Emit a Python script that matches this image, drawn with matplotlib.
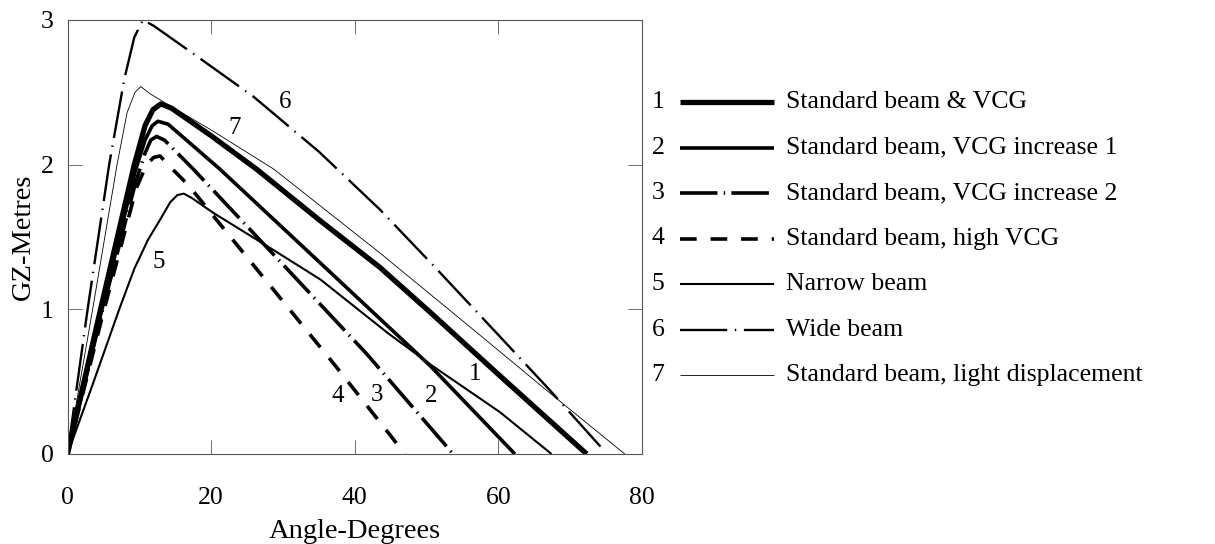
import matplotlib
matplotlib.use("Agg")
import matplotlib.pyplot as plt
from matplotlib.lines import Line2D

plt.rcParams['font.family'] = ['Liberation Serif', 'DejaVu Serif']
plt.rcParams['lines.scale_dashes'] = False

# GZ curves: heel angle (degrees) vs righting lever (metres)
c1_x = [0, 4.6, 9.3, 10.8, 11.9, 13.0, 14.5, 20, 26.3, 35, 43.5, 50.5, 60, 72.3]
c1_y = [0, 1.0, 2.0, 2.27, 2.38, 2.42, 2.39, 2.20, 1.97, 1.62, 1.29, 0.98, 0.55, 0]

c2_x = [0, 4.8, 9.4, 10.8, 11.8, 12.6, 14, 21.2, 35, 50.5, 62.3]
c2_y = [0, 1.0, 1.95, 2.17, 2.27, 2.30, 2.28, 1.97, 1.33, 0.61, 0]

c3_x = [0, 4.9, 9.5, 10.8, 11.6, 12.4, 13.5, 17.5, 30, 41.7, 53.7]
c3_y = [0, 1.0, 1.88, 2.08, 2.17, 2.195, 2.17, 1.97, 1.31, 0.69, 0]

c4_x = [0, 5.0, 9.6, 11.0, 12.0, 12.9, 14, 16.8, 37.3, 47.0]
c4_y = [0, 0.98, 1.84, 2.0, 2.05, 2.06, 2.0, 1.86, 0.61, 0]

c5_x = [0, 3.5, 7.2, 9.3, 11.2, 12.9, 14.3, 15.3, 16.2, 17.3, 20.3, 28.2, 35.2, 44.5, 50.5, 60.2, 67.4]
c5_y = [0, 0.48, 1.0, 1.28, 1.48, 1.62, 1.74, 1.79, 1.80, 1.77, 1.667, 1.425, 1.207, 0.84, 0.62, 0.29, 0]

c6_x = [0, 2.8, 5.8, 7.9, 9.3, 10.5, 12, 18, 25.9, 35, 43.5, 51, 59.3, 67, 74.6]
c6_y = [0, 1.0, 2.0, 2.59, 2.88, 3.0, 2.96, 2.75, 2.47, 2.09, 1.69, 1.30, 0.86, 0.45, 0.03]

c7_x = [0, 3.5, 6.9, 8.3, 9.4, 10.2, 11.5, 13.5, 20, 28.7, 43.5, 56.5, 67.7, 77.6]
c7_y = [0, 1.0, 2.0, 2.36, 2.5, 2.54, 2.49, 2.43, 2.24, 1.97, 1.39, 0.86, 0.40, 0]

curve_ids = ["1", "2", "3", "4", "5", "6", "7"]
curve_names = [
    "Standard beam & VCG",
    "Standard beam, VCG increase 1",
    "Standard beam, VCG increase 2",
    "Standard beam, high VCG",
    "Narrow beam",
    "Wide beam",
    "Standard beam, light displacement",
]
# on-curve number labels (angle, GZ)
tag_x = [56.8, 50.7, 43.1, 37.6, 12.7, 30.3, 23.3]
tag_y = [0.55, 0.40, 0.41, 0.40, 1.33, 2.43, 2.255]

xs = [c1_x, c2_x, c3_x, c4_x, c5_x, c6_x, c7_x]
ys = [c1_y, c2_y, c3_y, c4_y, c5_y, c6_y, c7_y]

styles = [
    dict(lw=3.8, ls='-'),
    dict(lw=2.6, ls='-'),
    dict(lw=2.6, ls=(0, (27, 4.5, 1, 4.5))),
    dict(lw=2.6, ls=(0, (12, 10))),
    dict(lw=1.5, ls='-'),
    dict(lw=1.7, ls=(0, (34, 5.5, 1, 5.5))),
    dict(lw=0.6, ls='-'),
]

W, H = 1215, 544
fig = plt.figure(figsize=(W / 100, H / 100), dpi=100)
ax_left, ax_right, ax_top, ax_bottom = 67.5, 642, 20, 454
ax = fig.add_axes([ax_left / W, 1 - ax_bottom / H,
                   (ax_right - ax_left) / W, (ax_bottom - ax_top) / H])

for x, y, st in zip(xs, ys, styles):
    ax.plot(x, y, color='black', solid_capstyle='butt', dash_capstyle='butt',
            solid_joinstyle='round', **st)

for t, tx, ty in zip(curve_ids, tag_x, tag_y):
    ax.text(tx, ty, t, fontsize=18, ha='center', va='center')

ax.set_xlim(0, 80)
ax.set_ylim(0, 3)
ax.set_xticks([0, 20, 40, 60, 80])
ax.set_yticks([0, 1, 2, 3])
ax.tick_params(direction='in', length=10, width=0.6, top=True, right=True,
               labelsize=18.5, color='#555555')
ax.tick_params(axis='x', pad=24)
ax.tick_params(axis='y', pad=10)
for s in ax.spines.values():
    s.set_linewidth(0.8)
    s.set_color('#555555')

ax_w = ax_right - ax_left
ax_h = ax_bottom - ax_top
ax.set_xlabel("Angle-Degrees", fontsize=20.5, va='center')
ax.xaxis.set_label_coords(0.5, -(532 - ax_bottom) / ax_h)
ax.set_ylabel("GZ-Metres", fontsize=20.5, va='center')
ax.yaxis.set_label_coords(-(ax_left - 23) / ax_w, 0.5)

# legend drawn in figure pixel coordinates
row_y = [101.7, 147.5, 193, 238.5, 284, 329.5, 375]
for i, (num, name, st) in enumerate(zip(curve_ids, curve_names, styles)):
    yy = 1 - row_y[i] / H
    fig.text(658 / W, yy, num, fontsize=18.5, ha='center', va='center')
    ln = Line2D([680 / W, 774 / W], [yy, yy], transform=fig.transFigure,
                color='black', solid_capstyle='butt', dash_capstyle='butt', **st)
    fig.add_artist(ln)
    fig.text(786 / W, yy, name, fontsize=18.5, ha='left', va='center')

fig.savefig("out.png", dpi=100, facecolor='white')
